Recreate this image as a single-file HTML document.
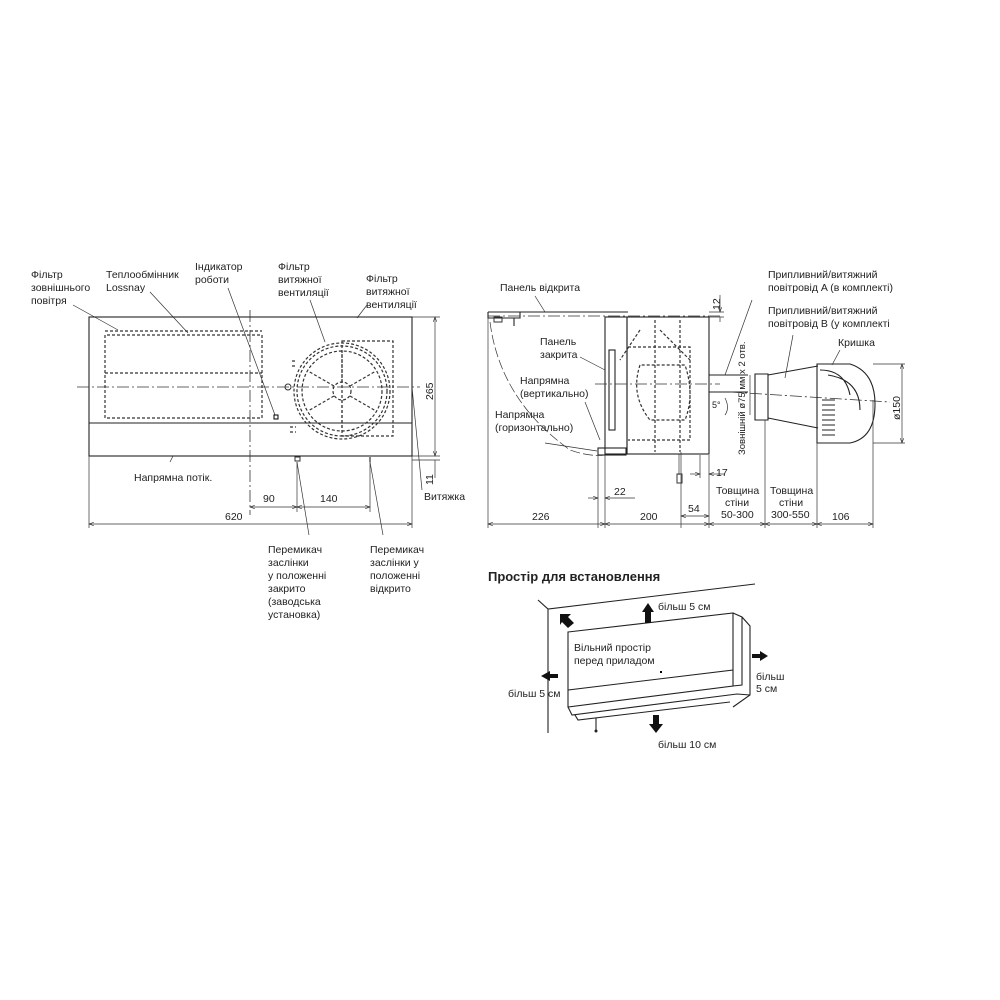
<!DOCTYPE html>
<html><head><meta charset="utf-8"><style>
body{margin:0;background:#fff}
svg{display:block}
text{font-family:"Liberation Sans",sans-serif;font-size:10.5px;fill:#222}
.s{stroke:#222;fill:none;stroke-width:1.1}
.d{stroke:#333;fill:none;stroke-width:1.2;stroke-dasharray:3 2}
.c{stroke:#333;fill:none;stroke-width:0.8;stroke-dasharray:12 3 2 3}
.t{stroke:#333;fill:none;stroke-width:0.7}
</style></head><body>
<svg width="1000" height="1000" viewBox="0 0 1000 1000">
<defs><marker id="a" markerWidth="8" markerHeight="6" refX="7" refY="3" orient="auto-start-reverse"><path d="M0,0.5 L7,3 L0,5.5" fill="none" stroke="#222" stroke-width="0.8"/></marker></defs>

<!-- LEFT DRAWING -->
<text x="31" y="278">Фільтр</text><text x="31" y="291">зовнішнього</text><text x="31" y="304">повітря</text>
<text x="106" y="278">Теплообмінник</text><text x="106" y="291">Lossnay</text>
<text x="195" y="270">Індикатор</text><text x="195" y="283">роботи</text>
<text x="278" y="270">Фільтр</text><text x="278" y="283">витяжної</text><text x="278" y="296">вентиляції</text>
<text x="366" y="282">Фільтр</text><text x="366" y="295">витяжної</text><text x="366" y="308">вентиляції</text>
<path class="t" d="M73,305 L118,330 M150,292 L188,333 M228,288 L275,415 M310,300 L325,342 M367,305 L357,318"/>
<rect class="s" x="89" y="317" width="323" height="139" stroke-width="1.5"/>
<line class="s" x1="89" y1="423" x2="412" y2="423" stroke-width="1.5"/>
<path class="d" d="M105,331 H262 M105,335 V418 H262 V335 Z M105,373 H262"/>
<line class="c" x1="77" y1="387" x2="420" y2="387"/>
<line class="c" x1="250" y1="310" x2="250" y2="515"/>
<rect x="274" y="415" width="4" height="4" fill="none" stroke="#000"/>
<rect class="d" x="342" y="341" width="51" height="95"/>
<circle class="d" cx="342" cy="391" r="48"/>
<circle class="d" cx="342" cy="391" r="45"/>
<circle class="d" cx="342" cy="391" r="40"/>
<circle class="d" cx="342" cy="391" r="9"/>
<path class="d" d="M342,382 V351 M342,400 V431 M350,386 L376,371 M334,386 L308,371 M350,396 L376,411 M334,396 L308,411"/>
<path class="d" d="M292,361 h5 M292,366 h5 M290,427 h6 M290,432 h6"/>
<circle cx="288" cy="387" r="3" fill="none" stroke="#333"/>
<rect x="295" y="457" width="5" height="4" fill="none" stroke="#333"/>
<line class="s" x1="370" y1="457" x2="370" y2="462"/>
<path class="t" d="M173,456 L170,462 M297,462 L309,535 M370,462 L383,535"/>
<text x="134" y="481">Напрямна потік.</text>
<path class="t" d="M89,456 V528 M412,456 V528 M297,462 V512 M370,462 V512"/>
<line class="t" x1="250" y1="507" x2="297" y2="507" marker-start="url(#a)" marker-end="url(#a)"/>
<line class="t" x1="297" y1="507" x2="370" y2="507" marker-start="url(#a)" marker-end="url(#a)"/>
<line class="t" x1="89" y1="524" x2="412" y2="524" marker-start="url(#a)" marker-end="url(#a)"/>
<text x="263" y="502">90</text><text x="320" y="502">140</text><text x="225" y="520">620</text>
<path class="t" d="M412,317 H440 M412,456 H440 M412,460 H440"/>
<line class="t" x1="435" y1="317" x2="435" y2="456" marker-start="url(#a)" marker-end="url(#a)"/>
<line class="t" x1="435" y1="460" x2="435" y2="478"/>
<text transform="translate(433,400) rotate(-90)">265</text>
<text transform="translate(433,485) rotate(-90)">11</text>
<line class="t" x1="412" y1="387" x2="422" y2="490"/>
<text x="424" y="500">Витяжка</text>
<text x="268" y="553">Перемикач</text><text x="268" y="566">заслінки</text><text x="268" y="579">у положенні</text><text x="268" y="592">закрито</text><text x="268" y="605">(заводська</text><text x="268" y="618">установка)</text>
<text x="370" y="553">Перемикач</text><text x="370" y="566">заслінки у</text><text x="370" y="579">положенні</text><text x="370" y="592">відкрито</text>

<!-- RIGHT DRAWING -->
<text x="500" y="291">Панель відкрита</text>
<line class="t" x1="535" y1="296" x2="545" y2="312"/>
<path class="s" d="M488,312 H628 M488,312 V318 H520 V312"/>
<rect x="494" y="317" width="8" height="5" fill="none" stroke="#333"/>
<line class="s" x1="514" y1="318" x2="514" y2="326"/>
<path class="t" d="M490,322 Q500,400 570,450 Q590,457 605,455" stroke-dasharray="10 3"/>
<line class="c" x1="488" y1="316" x2="720" y2="316"/>
<rect class="s" x="605" y="317" width="22" height="137"/>
<rect class="s" x="609" y="350" width="6" height="80"/>
<rect class="s" x="598" y="448" width="28" height="7"/>
<rect class="s" x="627" y="317" width="82" height="137"/>
<path class="d" d="M628,347 H690 V440 H628 M655,320 V452 M680,320 V452 M640,365 Q630,395 650,420 H685 Q695,395 685,365 Z M660,330 L690,360 M640,330 L620,360"/>
<line class="c" x1="595" y1="384" x2="720" y2="384"/>
<path class="s" d="M709,375 H748 M709,392 H748"/>
<path class="s" d="M755,374 H768 V420 H755 Z M768,375 L818,366 M768,418 L818,428"/>
<line class="c" x1="730" y1="392" x2="890" y2="402"/>
<path class="s" d="M817,364 H850 Q875,372 875,404 Q875,438 850,443 H817 Z" stroke-width="1.4"/>
<path class="s" d="M822,400 H835 M822,405 H835 M822,410 H835 M822,415 H835 M822,420 H835 M822,425 H835 M822,430 H835 M822,435 H835"/>
<path class="s" d="M820,370 Q845,370 850,395 M828,375 Q860,380 860,410"/>
<line class="t" x1="679" y1="454" x2="679" y2="475"/>
<rect x="677" y="474" width="5" height="9" fill="none" stroke="#333"/>
<path class="t" d="M598,455 V528 M605,455 V528 M709,455 V528 M765,420 V528 M817,443 V528 M873,400 V528 M681,452 V528 M700,455 V478"/>
<line class="t" x1="588" y1="498" x2="598" y2="498" marker-end="url(#a)"/>
<line class="t" x1="605" y1="498" x2="635" y2="498" marker-start="url(#a)"/>
<text x="614" y="495">22</text>
<line class="t" x1="681" y1="516" x2="709" y2="516" marker-start="url(#a)" marker-end="url(#a)"/>
<text x="688" y="512">54</text>
<line class="t" x1="690" y1="474" x2="700" y2="474" marker-end="url(#a)"/>
<line class="t" x1="709" y1="474" x2="725" y2="474" marker-start="url(#a)"/>
<text x="716" y="476">17</text>
<line class="t" x1="488" y1="524" x2="605" y2="524" marker-start="url(#a)" marker-end="url(#a)"/>
<line class="t" x1="605" y1="524" x2="709" y2="524" marker-start="url(#a)" marker-end="url(#a)"/>
<line class="t" x1="709" y1="524" x2="765" y2="524" marker-start="url(#a)" marker-end="url(#a)"/>
<line class="t" x1="765" y1="524" x2="817" y2="524" marker-start="url(#a)" marker-end="url(#a)"/>
<line class="t" x1="817" y1="524" x2="873" y2="524" marker-start="url(#a)" marker-end="url(#a)"/>
<line class="t" x1="488" y1="318" x2="488" y2="528"/>
<text x="532" y="520">226</text><text x="640" y="520">200</text><text x="832" y="520">106</text>
<text x="716" y="494">Товщина</text><text x="725" y="506">стіни</text><text x="721" y="518">50-300</text>
<text x="770" y="494">Товщина</text><text x="779" y="506">стіни</text><text x="771" y="518">300-550</text>
<path class="t" d="M709,312 H724 M709,317 H724"/>
<line class="t" x1="720" y1="295" x2="720" y2="312" marker-end="url(#a)"/>
<line class="t" x1="720" y1="317" x2="720" y2="322" />
<text transform="translate(720,310) rotate(-90)">12</text>
<text transform="translate(745,455) rotate(-90)" style="font-size:9.5px">Зовнішній ø75 мм x 2 отв.</text>
<line class="t" x1="750" y1="375" x2="750" y2="415"/>
<text x="712" y="408" style="font-size:9px">5°</text>
<path class="t" d="M725,398 Q730,408 725,415"/>
<path class="t" d="M873,364 H905 M873,443 H905"/>
<line class="t" x1="902" y1="364" x2="902" y2="443" marker-start="url(#a)" marker-end="url(#a)"/>
<text transform="translate(900,420) rotate(-90)">ø150</text>
<text x="768" y="278">Припливний/витяжний</text><text x="768" y="291">повітровід A (в комплекті)</text>
<text x="768" y="314">Припливний/витяжний</text><text x="768" y="327">повітровід B (у комплекті</text>
<text x="838" y="346">Кришка</text>
<path class="t" d="M752,300 L725,375 M793,335 L785,378 M840,350 L832,365"/>
<text x="540" y="345">Панель</text><text x="540" y="358">закрита</text>
<text x="520" y="384">Напрямна</text><text x="520" y="397">(вертикально)</text>
<text x="495" y="418">Напрямна</text><text x="495" y="431">(горизонтально)</text>
<path class="t" d="M580,357 L605,370 M585,402 L600,440 M545,443 L597,451"/>

<!-- INSTALL SPACE -->
<text x="488" y="581" style="font-size:13px;font-weight:bold">Простір для встановлення</text>
<path class="s" d="M538,600 L548,609 L755,584 M548,609 V733"/>
<path class="s" d="M568,632 L733,613 V670 L568,690 Z" stroke-width="1.3"/>
<path class="s" d="M568,690 V707 L733,686 V670"/>
<path class="s" d="M733,613 L742,617 L750,626 V695 L733,707 M742,617 V685 L733,686"/>
<path class="s" d="M568,707 L572,715 L737,694 L750,695 M575,715 L578,720 L730,702"/>
<line class="s" x1="596" y1="718" x2="596" y2="730"/><circle cx="596" cy="731" r="1.5" fill="#222"/>
<rect x="660" y="671" width="2" height="2" fill="#000"/>
<text x="574" y="651">Вільний простір</text><text x="574" y="664">перед приладом</text>
<path d="M645,623 V612 H642 L648,603 L654,612 H651 V623 Z" fill="#111"/>
<text x="658" y="610">більш 5 см</text>
<path d="M568,628 L562,622 L560,625 L560,614 L571,614 L568,617 L574,623 Z" fill="#111"/>
<path d="M558,678 H550 V681 L541,676 L550,671 V674 H558 Z" fill="#111"/>
<text x="508" y="697">більш 5 см</text>
<path d="M752,654 H760 V651 L768,656 L760,661 V658 H752 Z" fill="#111"/>
<text x="756" y="680">більш</text><text x="756" y="692">5 см</text>
<path d="M653,715 V724 H649 L656,733 L663,724 H659 V715 Z" fill="#111"/>
<text x="658" y="748">більш 10 см</text>
</svg>
</body></html>
